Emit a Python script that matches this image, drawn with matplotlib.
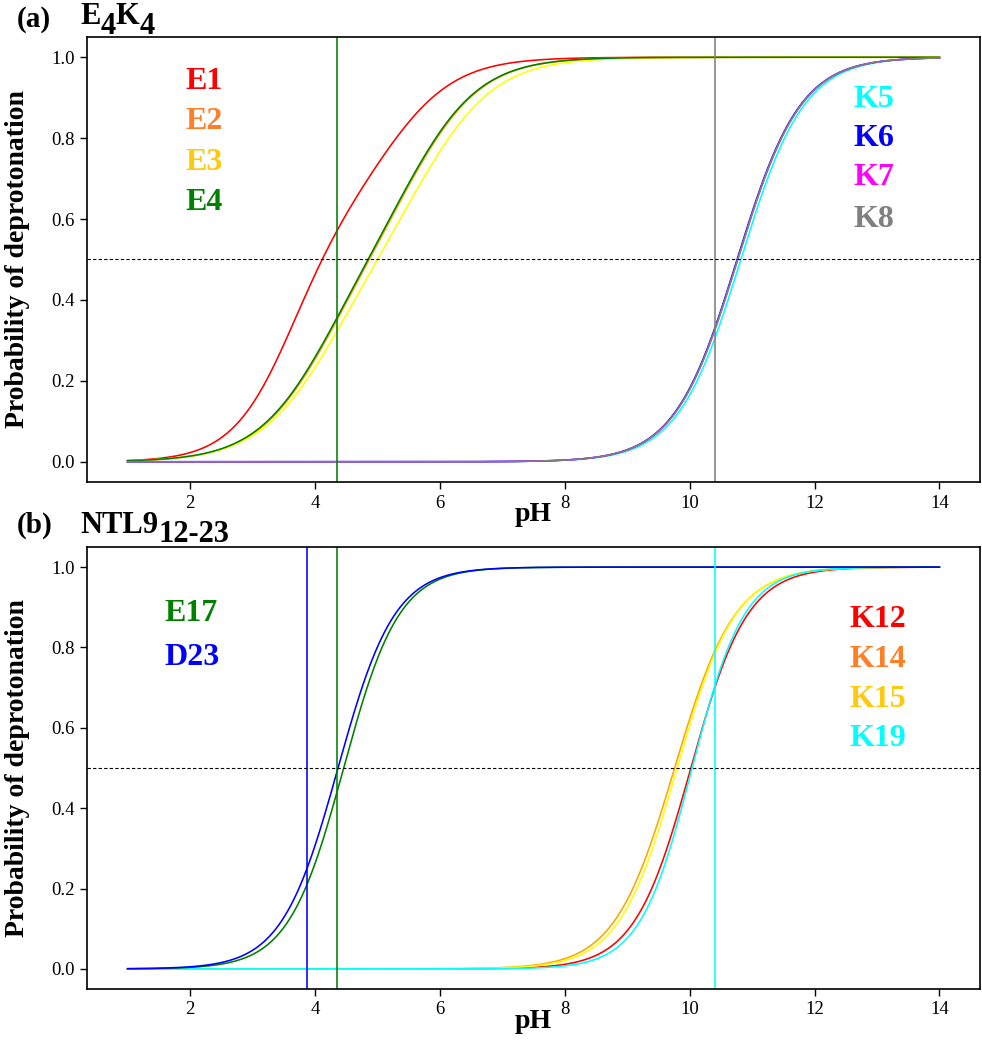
import numpy as np
import matplotlib
matplotlib.use("Agg")
import matplotlib.pyplot as plt

# ---------------- data ----------------
ph_range = (1.0, 14.0)

# Titration fits: two-component sigmoid  w*S(pK1,n1) + (1-w)*S(pK2,n2)
# panel (a) E4K4
a_names = ["E1", "E2", "E3", "E4", "K5", "K6", "K7", "K8"]
a_w = [0.6, 0.5, 0.5, 0.5, 1.0, 1.0, 1.0, 1.0]
a_pk1 = [3.60, 4.12, 4.20, 4.10, 10.82, 10.76, 10.77, 10.77]
a_n1 = [0.9, 0.75, 0.72, 0.75, 0.86, 0.86, 0.86, 0.86]
a_pk2 = [5.20, 5.62, 5.80, 5.60, 10.82, 10.76, 10.77, 10.77]
a_n2 = [0.75, 0.75, 0.72, 0.75, 0.86, 0.86, 0.86, 0.86]
a_line_colors = ["red", "orange", "yellow", "green", "cyan", "blue", "magenta", "gray"]
a_label_colors = ["red", "#FF7F27", "#FFC90E", "green", "cyan", "blue", "magenta", "gray"]
a_vlines = [4.35, 10.40]
a_vline_colors = ["green", "gray"]

# panel (b) NTL9(12-23)
b_names = ["K12", "K14", "K15", "K19", "E17", "D23"]
b_w = [1.0, 1.0, 1.0, 1.0, 1.0, 1.0]
b_pk1 = [10.02, 9.76, 9.80, 10.04, 4.46, 4.37]
b_n1 = [0.96, 0.90, 0.93, 1.04, 0.98, 0.96]
b_pk2 = [10.02, 9.76, 9.80, 10.04, 4.46, 4.37]
b_n2 = [0.96, 0.90, 0.93, 1.04, 0.98, 0.96]
b_line_colors = ["red", "orange", "yellow", "cyan", "green", "blue"]
b_label_colors = ["red", "#FF7F27", "#FFC90E", "cyan", "green", "blue"]
b_vlines = [3.87, 4.35, 10.40]
b_vline_colors = ["blue", "green", "cyan"]

x_ticks = [2, 4, 6, 8, 10, 12, 14]
x_tick_labels = ["2", "4", "6", "8", "10", "12", "14"]
y_ticks = [0.0, 0.2, 0.4, 0.6, 0.8, 1.0]
y_tick_labels = ["0.0", "0.2", "0.4", "0.6", "0.8", "1.0"]

# label placement (data coords)
a_lab_x = [1.93, 1.93, 1.93, 1.93, 12.63, 12.63, 12.63, 12.63]
a_lab_y = [0.94, 0.84, 0.74, 0.64, 0.896, 0.80, 0.703, 0.60]
b_lab_x = [12.56, 12.56, 12.56, 12.56, 1.59, 1.59]
b_lab_y = [0.869, 0.771, 0.67, 0.573, 0.884, 0.776]


def sig(ph, pka, n):
    return 1.0 / (1.0 + 10.0 ** (n * (pka - ph)))


def curve(ph, w, pk1, n1, pk2, n2):
    return w * sig(ph, pk1, n1) + (1 - w) * sig(ph, pk2, n2)


SERIF = ["Liberation Serif", "DejaVu Serif"]
plt.rcParams["font.family"] = SERIF

W, H = 982, 1050
fig = plt.figure(figsize=(W / 100, H / 100), dpi=100)


def px_axes(left, top, right, bottom):
    return fig.add_axes([left / W, 1 - bottom / H, (right - left) / W, (bottom - top) / H])


ax_a = px_axes(87, 37, 980, 482)
ax_b = px_axes(87, 547, 980, 989)

ph = np.linspace(ph_range[0], ph_range[1], 800)

for i in range(len(a_names)):
    ax_a.plot(ph, curve(ph, a_w[i], a_pk1[i], a_n1[i], a_pk2[i], a_n2[i]),
              color=a_line_colors[i], lw=1.15)
for i in range(len(b_names)):
    ax_b.plot(ph, curve(ph, b_w[i], b_pk1[i], b_n1[i], b_pk2[i], b_n2[i]),
              color=b_line_colors[i], lw=1.15)

for ax, vl, vc in [(ax_a, a_vlines, a_vline_colors), (ax_b, b_vlines, b_vline_colors)]:
    for v, c in zip(vl, vc):
        ax.axvline(v, color=c, lw=1.15)
    ax.axhline(0.5, color="black", lw=0.8, ls=(0, (3, 2)))
    ax.set_xticks(x_ticks)
    ax.set_xticklabels(x_tick_labels, fontfamily=SERIF, fontsize=13.5)
    ax.set_yticks(y_ticks)
    ax.set_yticklabels(y_tick_labels, fontfamily=SERIF, fontsize=13.5)
    ax.tick_params(length=5, width=1.0, pad=4)
    for s in ax.spines.values():
        s.set_linewidth(1.2)
    ax.set_xlabel("pH", fontsize=20, fontweight="bold", labelpad=-7, fontfamily=SERIF)
    ax.set_ylabel("Probability of deprotonation", fontsize=20, fontweight="bold",
                  fontfamily=SERIF)
    ax.yaxis.set_label_coords(-0.064, 0.5)

for i in range(len(a_names)):
    ax_a.text(a_lab_x[i], a_lab_y[i], a_names[i], color=a_label_colors[i],
              fontsize=23, fontweight="bold", ha="left", va="center")
for i in range(len(b_names)):
    ax_b.text(b_lab_x[i], b_lab_y[i], b_names[i], color=b_label_colors[i],
              fontsize=23, fontweight="bold", ha="left", va="center")

# panel titles with large subscripts
renderer = fig.canvas.get_renderer()


def title_pieces(x0, base, pieces, size):
    x = x0
    for txt, dy in pieces:
        t = fig.text(x / W, 1 - (base + dy) / H, txt, fontsize=size,
                     fontweight="bold", ha="left", va="baseline")
        bb = t.get_window_extent(renderer=renderer)
        x += bb.width


fig.text(17 / W, 1 - 27 / H, "(a)", fontsize=21, fontweight="bold", va="baseline")
title_pieces(80, 24, [("E", 0), ("4", 10), ("K", 0), ("4", 10)], size=22)
fig.text(17 / W, 1 - 533 / H, "(b)", fontsize=21, fontweight="bold", va="baseline")
title_pieces(80, 533, [("NTL9", 0), ("12-23", 9)], size=22)

fig.savefig("out.png", dpi=100)
